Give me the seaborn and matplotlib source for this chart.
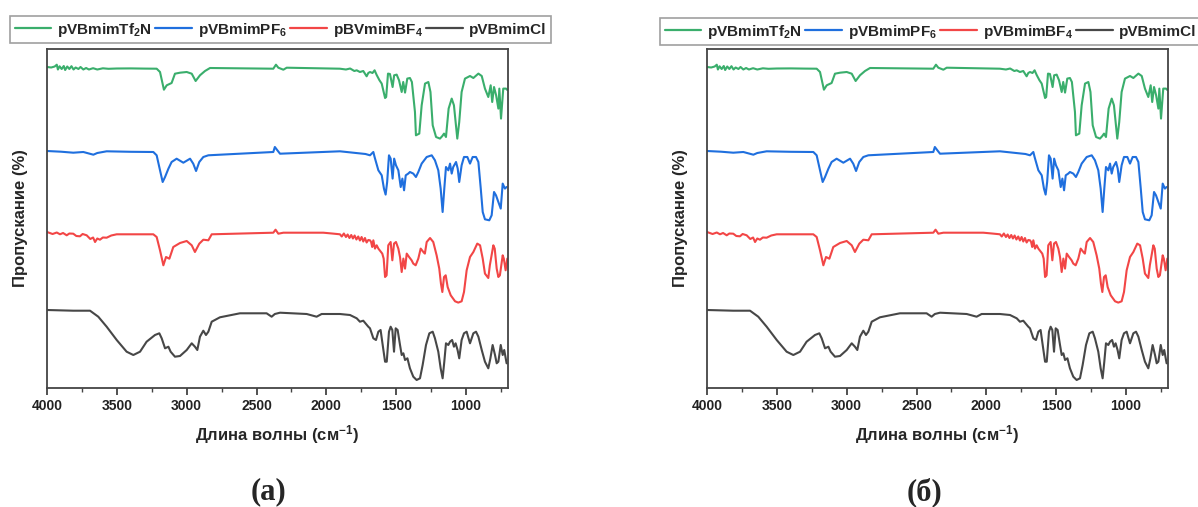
import matplotlib
matplotlib.use('Agg')
import matplotlib.pyplot as plt
from matplotlib.lines import Line2D
from matplotlib.ticker import MultipleLocator
import pandas as pd
import seaborn as sns

# ---------------- data (wavenumber, relative transmittance) ----------------
labels_a = ['pVBmimTf$_2$N', 'pVBmimPF$_6$', 'pBVmimBF$_4$', 'pVBmimCl']
labels_b = ['pVBmimTf$_2$N', 'pVBmimPF$_6$', 'pVBmimBF$_4$', 'pVBmimCl']
colors = ['#3aae6c', '#1f6fde', '#f24646', '#474747']

tf2n_wn = [4000, 3970, 3945, 3930, 3922, 3910, 3895, 3880, 3870, 3855, 3840, 3825, 3810, 3795, 3775,
           3760, 3740, 3720, 3700, 3670, 3640, 3600, 3560, 3500, 3400, 3300, 3215, 3191, 3163, 3143,
           3108, 3084, 3048, 3000, 2964, 2936, 2905, 2869, 2833, 2380, 2361, 2344, 2308, 2284, 1903,
           1860, 1830, 1800, 1783, 1760, 1736, 1712, 1700, 1688, 1670, 1655, 1640, 1620, 1604, 1580,
           1572, 1559, 1545, 1526, 1515, 1497, 1480, 1461, 1450, 1437, 1421, 1402, 1388, 1366, 1359,
           1335, 1318, 1294, 1270, 1255, 1239, 1215, 1187, 1170, 1158, 1144, 1125, 1103, 1087, 1063,
           1049, 1032, 1008, 972, 948, 912, 888, 865, 841, 824, 813, 800, 785, 769, 762,
           750, 734, 714, 705]
tf2n_t = [100, 99.5, 100.5, 102.3, 97.5, 100.7, 98, 101, 97, 100.5, 98, 100.8, 97.5, 99.5, 98,
          100, 97.5, 99, 97.5, 98.8, 97.5, 98.7, 98.2, 98.5, 98.6, 98.4, 98.3, 95, 77.3, 81.7,
          84, 93.3, 94.3, 95, 93.3, 86, 91.7, 96, 99, 98.3, 102.3, 99.3, 97.3, 99.3, 98.3,
          97.5, 98.5, 96, 96.7, 95, 96, 90.7, 94, 95, 94, 96.7, 92, 86.7, 83.4, 69,
          70, 93.4, 93, 80, 91.7, 92.4, 86.7, 75, 85, 74.4, 88.4, 89, 85, 55, 31.7,
          33.4, 61.7, 83.4, 85, 75, 41.7, 30, 28.4, 31, 33.4, 30, 58.4, 68.4, 61.7, 28.4,
          45, 75, 88.4, 91, 89, 93.4, 91, 78.4, 70, 81.7, 65, 80, 71.7, 58.4, 78.4,
          48.4, 78.4, 78.4, 77]

pf6_wn = [4000, 3900, 3812, 3740, 3700, 3668, 3640, 3573, 3400, 3239, 3215, 3191, 3172, 3155, 3131,
          3108, 3072, 3024, 2976, 2953, 2933, 2910, 2881, 2845, 2380, 2369, 2351, 2332, 1903, 1720,
          1688, 1664, 1655, 1628, 1604, 1588, 1576, 1565, 1552, 1540, 1526, 1515, 1502, 1485, 1468,
          1456, 1444, 1432, 1414, 1402, 1378, 1359, 1342, 1318, 1282, 1246, 1223, 1199, 1182, 1168,
          1156, 1144, 1127, 1115, 1103, 1092, 1072, 1060, 1049, 1032, 1015, 991, 972, 953, 929,
          912, 895, 881, 865, 834, 817, 800, 786, 769, 752, 738, 722, 710]
pf6_t = [100, 99.3, 98.3, 99, 97.5, 96.3, 98, 99.7, 99.2, 99, 95.7, 80.7, 69, 74, 82.3,
         89, 92.3, 88.3, 92.3, 87.3, 80, 89, 94, 95.7, 99, 104, 100.7, 97.3, 99.7, 97,
         95.7, 99, 94, 80.7, 75.7, 62.4, 56.4, 69, 95.7, 92.4, 72.4, 92.4, 85.7, 80.7, 64,
         72.4, 60.7, 75.7, 77.4, 79, 77.4, 74, 79, 87.4, 94, 95.7, 90.7, 80.7, 62.4, 39,
         62.4, 84, 80.7, 87.4, 77.4, 84, 89, 82.4, 69, 85.7, 94, 94, 87.4, 94, 94,
         89, 62.4, 39, 31.7, 30.7, 35.7, 59, 55.7, 49, 42.4, 67.4, 62.4, 64]

bf4_wn = [4000, 3960, 3930, 3907, 3885, 3859, 3840, 3812, 3790, 3764, 3745, 3716, 3690, 3670, 3656,
          3640, 3621, 3600, 3573, 3540, 3501, 3239, 3215, 3191, 3167, 3148, 3124, 3096, 3048, 3000,
          2964, 2941, 2910, 2881, 2845, 2821, 2380, 2364, 2344, 2308, 2022, 1960, 1903, 1890, 1875,
          1860, 1848, 1835, 1822, 1810, 1798, 1785, 1772, 1760, 1748, 1736, 1724, 1712, 1700, 1688,
          1680, 1672, 1664, 1652, 1640, 1628, 1600, 1590, 1580, 1569, 1557, 1540, 1528, 1516, 1502,
          1485, 1473, 1461, 1449, 1437, 1425, 1408, 1390, 1378, 1361, 1342, 1325, 1306, 1295, 1282,
          1258, 1235, 1211, 1192, 1180, 1170, 1158, 1146, 1132, 1110, 1079, 1056, 1032, 1015, 996,
          972, 948, 920, 900, 881, 865, 841, 830, 805, 795, 781, 769, 758, 738, 730,
          717, 705]
bf4_t = [101, 99, 100.5, 98.7, 100, 97.7, 99.5, 99.3, 97, 96.7, 99, 97.7, 94, 95.5, 91,
         94.5, 93.3, 95.5, 95.3, 97.5, 98.7, 98.7, 96, 82.7, 67.7, 76, 74.3, 86, 90, 92,
         87.7, 81, 89.3, 93.3, 92.7, 98.7, 100.3, 103.3, 99.3, 100.3, 100.3, 99.5, 98.7, 96.5, 99.5,
         96, 98.5, 95, 98, 94.5, 97.5, 93.5, 96.5, 92.5, 96, 91.5, 95, 90.5, 93, 92.7,
         91, 86, 92.7, 84.4, 87.7, 84.4, 79.4, 74.4, 56, 57.7, 87.7, 91, 72.7, 89.4, 91,
         84.4, 76, 61, 74.4, 64.4, 79.4, 76, 72.7, 69.4, 67.7, 74.4, 84.4, 81, 79.4, 91,
         95, 91, 77.7, 64.4, 49.4, 41, 56, 57.7, 46, 37.7, 31.7, 30.4, 31.7, 41, 62.7,
         76, 81, 89.4, 87.7, 74.4, 59.4, 55, 67.7, 87.7, 84.4, 64.4, 56, 57.7, 77.7, 74.4,
         62.7, 74.4]

cl_wn = [4000, 3812, 3692, 3633, 3573, 3501, 3430, 3382, 3334, 3287, 3227, 3196, 3179, 3155, 3131,
         3115, 3084, 3048, 3000, 2964, 2941, 2924, 2905, 2881, 2862, 2845, 2821, 2762, 2619, 2428,
         2392, 2369, 2332, 2141, 2070, 2034, 1903, 1831, 1783, 1760, 1736, 1700, 1688, 1664, 1645,
         1628, 1612, 1597, 1580, 1568, 1552, 1540, 1528, 1516, 1504, 1490, 1473, 1461, 1449, 1437,
         1420, 1402, 1378, 1354, 1330, 1311, 1287, 1263, 1239, 1223, 1199, 1182, 1168, 1156, 1144,
         1127, 1115, 1100, 1087, 1075, 1061, 1049, 1032, 1015, 996, 972, 948, 929, 912, 888,
         865, 841, 826, 810, 793, 781, 769, 752, 738, 727, 710]
cl_t = [100, 99.3, 99.3, 93.3, 83.3, 70, 58.3, 55, 58.3, 68.3, 75, 76.7, 71.7, 61.7, 63.3,
        58.3, 53.3, 54, 60, 66.7, 63.3, 60, 73.3, 79.3, 75, 78.3, 88.3, 92.7, 96.7, 96.7,
        93.3, 96, 97.3, 96, 93.3, 96, 96, 95, 91.7, 88.3, 89.3, 83.3, 81.7, 71.7, 70,
        78.3, 80, 65, 48.3, 48.3, 78.3, 83.3, 80, 58.3, 81.7, 80, 65, 55, 56.7, 50,
        51.7, 41.7, 33.3, 30, 31.7, 45, 65, 76.7, 78.3, 71.7, 58.3, 41.7, 31.7, 48.3, 66.7,
        65, 68.3, 70, 63.3, 66.7, 60, 51.7, 70, 76.7, 78.3, 66.7, 76.7, 78.3, 73.3, 60,
        48.3, 41.7, 51.7, 65, 55, 46.7, 48.3, 65, 55, 60, 46.7]

xticks = [4000, 3500, 3000, 2500, 2000, 1500, 1000]
offsets = [221, 137, 55, -22]

# ---------------- style ----------------
sns.set_style('ticks')
plt.rcParams['font.family'] = ['Liberation Sans', 'DejaVu Sans']
plt.rcParams['font.weight'] = 'bold'
plt.rcParams['mathtext.fontset'] = 'custom'
plt.rcParams['mathtext.rm'] = 'Liberation Sans:bold'
plt.rcParams['mathtext.it'] = 'Liberation Sans:bold'
plt.rcParams['mathtext.bf'] = 'Liberation Sans:bold'
plt.rcParams['mathtext.default'] = 'rm'

fig = plt.figure(figsize=(11.98, 5.07), dpi=100)
W, H = 1198, 507

panels = [
    dict(rect=(47, 49, 508, 388), labels=labels_a, leg=(10, 16), cap='(а)', capx=268),
    dict(rect=(707, 49, 1168, 388), labels=labels_b, leg=(660, 18), cap='(б)', capx=925),
]

all_wn = [tf2n_wn, pf6_wn, bf4_wn, cl_wn]
all_t = [tf2n_t, pf6_t, bf4_t, cl_t]

for p in panels:
    x0, y0, x1, y1 = p['rect']
    ax = fig.add_axes([x0 / W, 1 - y1 / H, (x1 - x0) / W, (y1 - y0) / H])
    frames = []
    for name, wn, t, off in zip(p['labels'], all_wn, all_t, offsets):
        frames.append(pd.DataFrame({'wn': wn, 'T': [v + off for v in t], 'series': name}))
    df = pd.concat(frames, ignore_index=True)
    sns.lineplot(data=df, x='wn', y='T', hue='series', palette=dict(zip(p['labels'], colors)),
                 estimator=None, sort=True, linewidth=1.5, legend=False, ax=ax)
    ax.set_xlim(4000, 700)
    ax.set_ylim(0, 339)
    ax.set_xticks(xticks)
    ax.xaxis.set_minor_locator(MultipleLocator(250))
    ax.set_yticks([])
    ax.tick_params(axis='x', which='major', direction='out', length=5, width=1.1,
                   labelsize=10, colors='#222222', pad=3)
    ax.tick_params(axis='x', which='minor', direction='out', length=3, width=1.0, colors='#444444')
    for lab in ax.get_xticklabels():
        lab.set_fontweight('bold')
    for s in ax.spines.values():
        s.set_color('#444444')
        s.set_linewidth(1.3)
    ax.set_xlabel('Длина волны (см$^{-1}$)', fontsize=12, fontweight='bold', labelpad=7)
    ax.set_ylabel('Пропускание (%)', fontsize=12, fontweight='bold', labelpad=14)

    handles = [Line2D([0], [0], color=c, lw=1.6) for c in colors]
    lx, ly = p['leg']
    leg = ax.legend(handles, p['labels'], ncol=4, loc='upper left',
                    bbox_to_anchor=(lx / W, 1 - ly / H), bbox_transform=fig.transFigure,
                    frameon=True, fancybox=False, edgecolor='#a0a0a0', framealpha=1,
                    fontsize=11, handlelength=2.4, handletextpad=0.4, columnspacing=0.2,
                    borderpad=0.3, borderaxespad=0)
    leg.get_frame().set_linewidth(1.2)
    for txt in leg.get_texts():
        txt.set_fontweight('bold')

    fig.text(p['capx'] / W, 1 - 492 / H, p['cap'], ha='center', va='center', fontsize=22,
             fontweight='bold', family=['Liberation Serif', 'DejaVu Serif'])

fig.savefig('out.png', dpi=100)
